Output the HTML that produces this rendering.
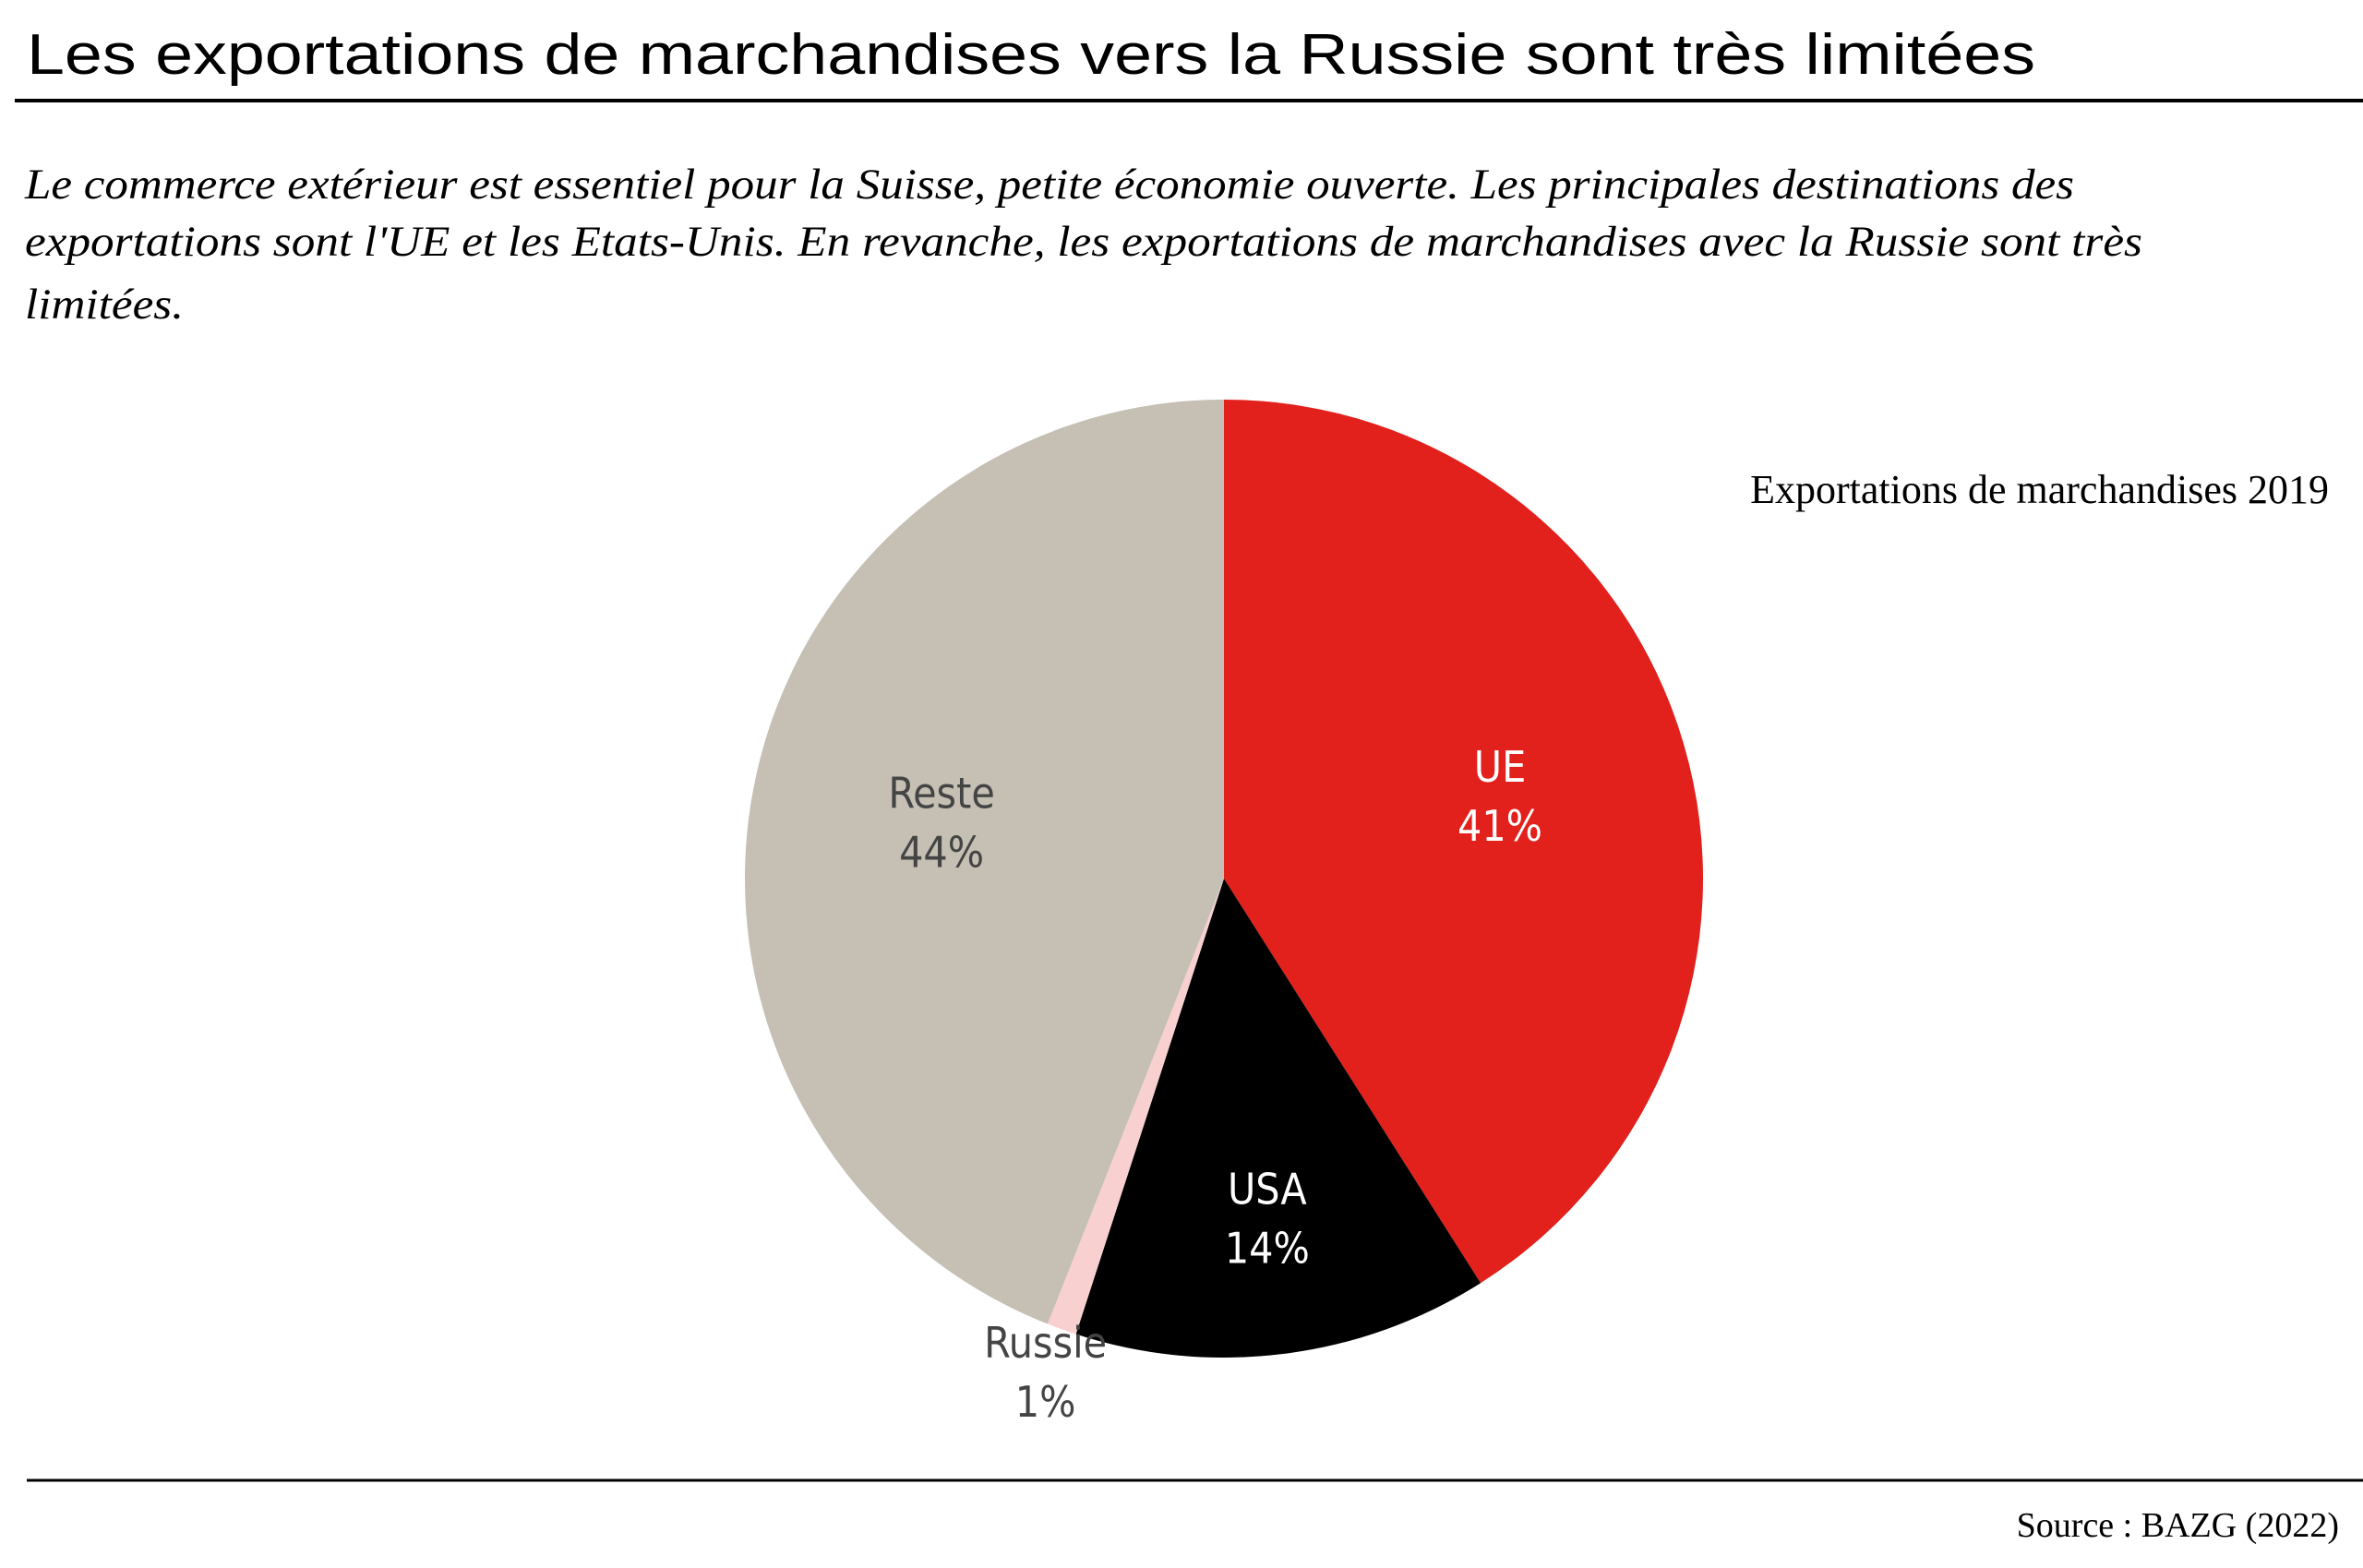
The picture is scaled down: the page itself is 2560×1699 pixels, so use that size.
<!DOCTYPE html>
<html><head><meta charset="utf-8"><style>html,body{margin:0;padding:0;background:#fff}svg{display:block}</style></head>
<body>
<svg id="chart" width="2560" height="1699" viewBox="0 0 2560 1699" xmlns="http://www.w3.org/2000/svg">
<text x="29" y="80" font-family="Liberation Sans, sans-serif" font-size="62" textLength="2176" lengthAdjust="spacingAndGlyphs" fill="#000">Les exportations de marchandises vers la Russie sont très limitées</text>
<line x1="16" y1="109" x2="2560" y2="109" stroke="#000" stroke-width="4"/>
<g font-family="Liberation Serif, serif" font-style="italic" font-size="47" fill="#000">
<text x="27" y="215" textLength="2220" lengthAdjust="spacingAndGlyphs">Le commerce extérieur est essentiel pour la Suisse, petite économie ouverte. Les principales destinations des</text>
<text x="27" y="277" textLength="2294" lengthAdjust="spacingAndGlyphs">exportations sont l'UE et les Etats-Unis. En revanche, les exportations de marchandises avec la Russie sont très</text>
<text x="27" y="345" textLength="172" lengthAdjust="spacingAndGlyphs">limitées.</text>
</g>
<text x="2523" y="545" text-anchor="end" font-family="Liberation Serif, serif" font-size="44" fill="#000">Exportations de marchandises 2019</text>
<g id="slices"></g>
<g id="labels"></g>
<line x1="29" y1="1604" x2="2560" y2="1604" stroke="#000" stroke-width="3"/>
<text x="2534" y="1665" text-anchor="end" font-family="Liberation Serif, serif" font-size="38" fill="#000">Source :  BAZG (2022)</text>
</svg>
<script>
const categories = ["UE", "USA", "Russie", "Reste"];
const values = [41, 14, 1, 44];
const valueLabels = ["41%", "14%", "1%", "44%"];
const colors = ["#e2201c", "#000000", "#f9d0d0", "#c5bfb4"];
const labelColors = ["#ffffff", "#ffffff", "#444444", "#444444"];
const cx = 1326, cy = 952, r = 519;
const NS = "http://www.w3.org/2000/svg";
const total = values.reduce((a,b)=>a+b,0);
const slices = document.getElementById("slices");
const labels = document.getElementById("labels");
function pt(a, rr){ return [cx + rr*Math.sin(a), cy - rr*Math.cos(a)]; }
let acc = 0;
values.forEach((v,i)=>{
  const a0 = acc/total*2*Math.PI; acc += v; const a1 = acc/total*2*Math.PI;
  const p0 = pt(a0,r), p1 = pt(a1,r);
  const large = (a1-a0) > Math.PI ? 1 : 0;
  const path = document.createElementNS(NS,"path");
  path.setAttribute("d", `M${cx},${cy} L${p0[0]},${p0[1]} A${r},${r} 0 ${large} 1 ${p1[0]},${p1[1]} Z`);
  path.setAttribute("fill", colors[i]);
  
  
  slices.appendChild(path);
  const mid = (a0+a1)/2;
  const rr = v < 5 ? r*1.1 : (v < 20 ? r*0.72 : r*0.6);
  const lp = pt(mid, rr);
  const t = document.createElementNS(NS,"text");
  t.setAttribute("x", lp[0]);
  t.setAttribute("y", lp[1]);
  t.setAttribute("text-anchor","middle");
  t.setAttribute("font-family","DejaVu Sans Condensed, Liberation Sans, sans-serif");
  t.setAttribute("font-size","46");
  t.setAttribute("fill", labelColors[i]);
  
  
  const s1 = document.createElementNS(NS,"tspan");
  s1.setAttribute("x", lp[0]); s1.setAttribute("dy","-18"); s1.textContent = categories[i];
  const s2 = document.createElementNS(NS,"tspan");
  s2.setAttribute("x", lp[0]); s2.setAttribute("dy","64"); s2.textContent = valueLabels[i];
  t.appendChild(s1); t.appendChild(s2);
  labels.appendChild(t);
});
</script>
</body></html>
